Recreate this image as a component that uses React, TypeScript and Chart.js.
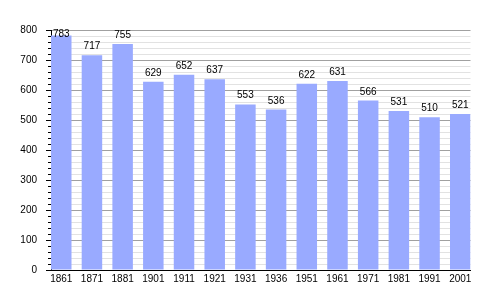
import React, { useEffect, useRef } from "react";
import { Chart, registerables } from "chart.js";

Chart.register(...registerables);

const years = ["1861", "1871", "1881", "1901", "1911", "1921", "1931", "1936", "1951", "1961", "1971", "1981", "1991", "2001"];
const population = [783, 717, 755, 629, 652, 637, 553, 536, 622, 631, 566, 531, 510, 521];
const yMax = 800;
const majorStep = 100;
const minorStep = 20;

const FONT = "'Liberation Sans', Arial, sans-serif";

const valueLabels = {
  id: "valueLabels",
  afterDatasetsDraw(chart: any) {
    const ctx = chart.ctx;
    const meta = chart.getDatasetMeta(0);
    const top = chart.chartArea.top;
    ctx.save();
    ctx.font = `10px ${FONT}`;
    ctx.fillStyle = "#000";
    ctx.textAlign = "center";
    ctx.textBaseline = "alphabetic";
    meta.data.forEach((bar: any, i: number) => {
      const y = Math.max(bar.y - 6, top + 6);
      ctx.fillText(String(population[i]), bar.x, y);
    });
    ctx.restore();
  },
};

export default function App() {
  const ref = useRef<HTMLCanvasElement>(null);
  useEffect(() => {
    if (!ref.current) return;
    const chart = new Chart(ref.current, {
      type: "bar",
      data: {
        datasets: [
          {
            data: population.map((v, i) => ({ x: i, y: v })),
            backgroundColor: "#99aaff",
            borderWidth: 0,
            barPercentage: 0.668,
            categoryPercentage: 1,
          },
        ],
      },
      options: {
        responsive: false,
        animation: false,
        layout: { padding: { left: 0, right: 29.5, top: 30.5, bottom: 0 } },
        plugins: { legend: { display: false }, tooltip: { enabled: false } },
        scales: {
          x: {
            type: "linear",
            offset: false,
            min: -0.334,
            max: 13.334,
            afterBuildTicks: (s: any) => {
              s.ticks = years.map((_, i) => ({ value: i }));
            },
            afterFit: (s: any) => {
              s.height = 30;
            },
            ticks: {
              autoSkip: false,
              maxRotation: 0,
              padding: 3,
              color: "#000",
              font: { family: FONT, size: 10 },
              callback: (v: any) => years[Math.round(Number(v))] ?? "",
            },
            grid: { display: false, drawTicks: false, offset: false },
            border: { display: true, color: "#000", width: 1 },
          },
          yMinor: {
            type: "linear",
            position: "left",
            weight: 0,
            min: 0,
            max: yMax,
            afterFit: (s: any) => {
              s.width = 0;
            },
            ticks: { stepSize: minorStep, autoSkip: false, display: false },
            grid: {
              color: (c: any) => (c.tick && c.tick.value % majorStep === 0 ? "rgba(0,0,0,0)" : "#e2e2e2"),
              tickColor: (c: any) => (c.tick && c.tick.value % majorStep === 0 ? "rgba(0,0,0,0)" : "#000"),
              tickLength: 3,
            },
            border: { display: false },
          },
          y: {
            type: "linear",
            position: "left",
            weight: 1,
            min: 0,
            max: yMax,
            afterFit: (s: any) => {
              s.width = 51;
            },
            ticks: {
              stepSize: majorStep,
              autoSkip: false,
              padding: 9,
              color: "#000",
              font: { family: FONT, size: 10 },
            },
            grid: {
              color: (c: any) => (c.tick && c.tick.value === 0 ? "rgba(0,0,0,0)" : "#a0a0a0"),
              tickColor: "#000",
              tickLength: 5,
            },
            border: { display: true, color: "#000", width: 1 },
          },
        },
      },
      plugins: [valueLabels],
    });
    return () => chart.destroy();
  }, []);
  return (
    <div style={{ position: "fixed", left: 0, top: 0, width: 500, height: 300, background: "#fff" }}>
      <canvas ref={ref} width={500} height={300} style={{ display: "block" }} />
    </div>
  );
}
